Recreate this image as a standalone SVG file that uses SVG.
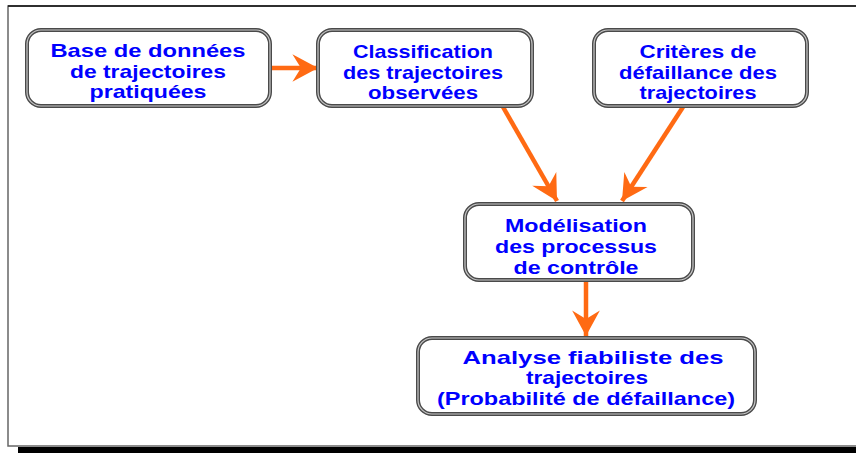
<svg xmlns="http://www.w3.org/2000/svg" width="856" height="453" viewBox="0 0 856 453">
<style>
.frame{fill:#fff;stroke:#666;stroke-width:1.5}
.b1{fill:#fff;stroke:#4a4a4a;stroke-width:4}
.b2{fill:none;stroke:#c8c8c8;stroke-width:1.2}
.t{font-family:"Liberation Sans",Arial,sans-serif;font-weight:bold;font-size:19px;fill:#0000ff;text-anchor:middle}
.c{stroke:#ff6a13;stroke-width:4.5;fill:none}
</style>
<defs>
<marker id="ah" markerUnits="userSpaceOnUse" markerWidth="32" markerHeight="32" viewBox="-26 -15 28 30" refX="0" refY="0" orient="auto">
<path d="M0,0 L-24,-13 L-16,0 L-24,13 Z" fill="#ff6a13"/>
</marker>
</defs>
<rect x="0" y="0" width="856" height="453" fill="#fff"/>
<rect class="frame" x="8" y="6" width="860" height="440"/>
<line x1="8" y1="6" x2="856" y2="6" stroke="#111" stroke-width="1.5"/>
<rect x="18" y="447" width="838" height="6" fill="#000"/>
<g id="connectors">
<line class="c" x1="270" y1="68" x2="318" y2="68" marker-end="url(#ah)"/>
<line class="c" x1="503" y1="107" x2="557" y2="201" marker-end="url(#ah)"/>
<line class="c" x1="683" y1="107" x2="622" y2="201" marker-end="url(#ah)"/>
<line class="c" x1="586" y1="280" x2="586" y2="336" marker-end="url(#ah)"/>
</g>
<g id="n1">
<rect class="b1" x="27" y="30" width="243" height="76" rx="14"/>
<rect class="b2" x="27" y="30" width="243" height="76" rx="14"/>
<text class="t" x="148" y="57" textLength="195" lengthAdjust="spacingAndGlyphs">Base de données</text>
<text class="t" x="148" y="77.5" textLength="156" lengthAdjust="spacingAndGlyphs">de trajectoires</text>
<text class="t" x="148" y="98" textLength="117" lengthAdjust="spacingAndGlyphs">pratiquées</text>
</g>
<g id="n2">
<rect class="b1" x="318" y="30" width="214" height="76" rx="14"/>
<rect class="b2" x="318" y="30" width="214" height="76" rx="14"/>
<text class="t" x="423" y="58" textLength="140" lengthAdjust="spacingAndGlyphs">Classification</text>
<text class="t" x="423" y="78.5" textLength="160" lengthAdjust="spacingAndGlyphs">des trajectoires</text>
<text class="t" x="423" y="99" textLength="110" lengthAdjust="spacingAndGlyphs">observées</text>
</g>
<g id="n3">
<rect class="b1" x="594" y="30" width="213" height="76" rx="14"/>
<rect class="b2" x="594" y="30" width="213" height="76" rx="14"/>
<text class="t" x="698" y="58" textLength="117" lengthAdjust="spacingAndGlyphs">Critères de</text>
<text class="t" x="698" y="78.5" textLength="158" lengthAdjust="spacingAndGlyphs">défaillance des</text>
<text class="t" x="698" y="99" textLength="117" lengthAdjust="spacingAndGlyphs">trajectoires</text>
</g>
<g id="n4">
<rect class="b1" x="465" y="204" width="228" height="76" rx="14"/>
<rect class="b2" x="465" y="204" width="228" height="76" rx="14"/>
<text class="t" x="576" y="232" textLength="142" lengthAdjust="spacingAndGlyphs">Modélisation</text>
<text class="t" x="576" y="253" textLength="162" lengthAdjust="spacingAndGlyphs">des processus</text>
<text class="t" x="576" y="273.5" textLength="125" lengthAdjust="spacingAndGlyphs">de contrôle</text>
</g>
<g id="n5">
<rect class="b1" x="418" y="338" width="337" height="76" rx="14"/>
<rect class="b2" x="418" y="338" width="337" height="76" rx="14"/>
<text class="t" x="593" y="363.5" textLength="261" lengthAdjust="spacingAndGlyphs">Analyse fiabiliste des</text>
<text class="t" x="587" y="384" textLength="122" lengthAdjust="spacingAndGlyphs">trajectoires</text>
<text class="t" x="586" y="405" textLength="298" lengthAdjust="spacingAndGlyphs">(Probabilité de défaillance)</text>
</g>
</svg>
